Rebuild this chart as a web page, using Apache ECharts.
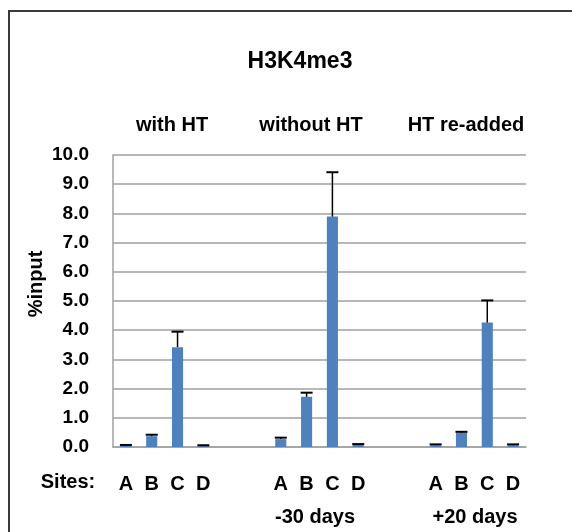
<!DOCTYPE html>
<html>
<head>
<meta charset="utf-8">
<script src="https://cdn.jsdelivr.net/npm/echarts@6/dist/echarts.min.js"></script>
<style>
html,body{margin:0;padding:0;background:#fff;}
#chart{width:572px;height:532px;}
</style>
</head>
<body>
<div id="chart"></div>
<script>
// ---- data ----
const categories = ['A','B','C','D','','','A','B','C','D','','','A','B','C','D'];
const values     = [0.04,0.37,3.42,0.03,null,null,0.27,1.72,7.89,0.07,null,null,0.06,0.49,4.26,0.06];
const errors     = [0.03,0.05,0.53,0.03,null,null,0.05,0.14,1.52,0.03,null,null,0.03,0.03,0.76,0.03];
const yTicks     = [0,1,2,3,4,5,6,7,8,9,10];
const chartTitle = 'H3K4me3';
const groupTitles = ['with HT','without HT','HT re-added'];
const groupFooters = ['','-30 days','+20 days'];
const sitesLabel = 'Sites:';
const yName = '%input';

const FONT = '"Liberation Sans", Arial, sans-serif';
const chart = echarts.init(document.getElementById('chart'), null, {renderer:'canvas'});

const errData = [];
values.forEach((v,i)=>{ if(v!==null) errData.push([i, v, errors[i]]); });

const txt = (text, x, y, size, rot) => ({
  type:'text', x:x, y:y, rotation:rot||0,
  style:{text:text, fontFamily:FONT, fontWeight:'bold', fontSize:size, fill:'#000',
         textAlign:'center', textVerticalAlign:'middle'}
});

chart.setOption({
  animation:false,
  backgroundColor:'#fff',
  grid:{left:113, right:46, top:155, bottom:85, containLabel:false},
  xAxis:{
    type:'category', data:categories,
    axisLine:{show:true, lineStyle:{color:'#a0a0a0', width:1.5}},
    axisTick:{show:false},
    axisLabel:{fontFamily:FONT, fontWeight:'bold', fontSize:20, color:'#000', margin:27, interval:0}
  },
  yAxis:{
    type:'value', min:yTicks[0], max:yTicks[yTicks.length-1], interval:1,
    axisLine:{show:true, lineStyle:{color:'#a0a0a0', width:1.5}},
    axisTick:{show:false},
    splitLine:{show:true, lineStyle:{color:'#a0a0a0', width:1.5}},
    axisLabel:{fontFamily:FONT, fontWeight:'bold', fontSize:19, color:'#000', margin:24,
               formatter:(v)=>v.toFixed(1)}
  },
  series:[
    {
      type:'bar', data:values, barWidth:'43%',
      itemStyle:{color:'#4f81bd'}
    },
    {
      type:'custom', data:errData, encode:{x:0, y:1}, z:5,
      renderItem:(params, api)=>{
        const i = api.value(0), v = api.value(1), e = api.value(2);
        const base = api.coord([i, v]);
        const top = api.coord([i, v+e]);
        const hw = 6;
        return {type:'group', children:[
          {type:'line', shape:{x1:base[0], y1:base[1], x2:top[0], y2:top[1]},
           style:{stroke:'#000', lineWidth:1.5}},
          {type:'line', shape:{x1:top[0]-hw, y1:top[1], x2:top[0]+hw, y2:top[1]},
           style:{stroke:'#000', lineWidth:2}}
        ]};
      }
    }
  ],
  graphic:[
    {type:'rect', shape:{x:9, y:11, width:800, height:800},
     style:{fill:null, stroke:'#3a3a3a', lineWidth:2}, z:-1},
    txt(chartTitle, 300, 62, 23),
    txt(groupTitles[0], 172, 125, 20),
    txt(groupTitles[1], 311, 125, 20),
    txt(groupTitles[2], 466, 125, 20),
    txt(yName, 36, 284, 20, Math.PI/2),
    txt(sitesLabel, 68, 482, 20),
    txt(groupFooters[1], 315, 517, 20),
    txt(groupFooters[2], 475, 517, 20)
  ]
});
</script>
</body>
</html>
